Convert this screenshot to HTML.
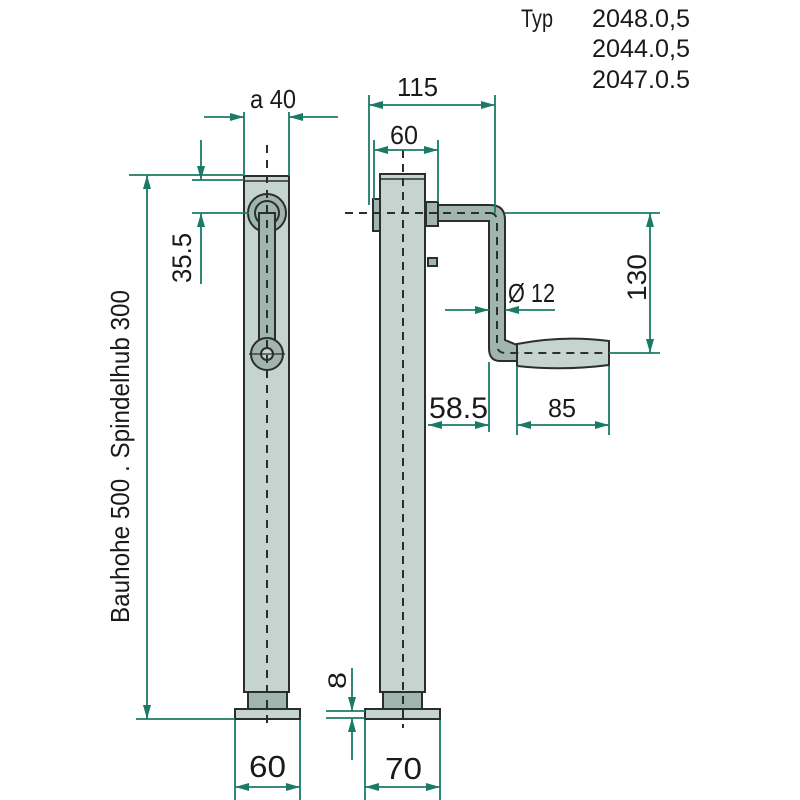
<!DOCTYPE html>
<html><head><meta charset="utf-8"><style>html,body{margin:0;padding:0;background:#fff}svg{display:block}</style></head>
<body>
<svg width="800" height="800" viewBox="0 0 800 800" xmlns="http://www.w3.org/2000/svg" font-family="Liberation Sans, sans-serif">
<defs>
<marker id="a" viewBox="0 0 14 8" refX="14" refY="4" markerWidth="14" markerHeight="8" markerUnits="userSpaceOnUse" orient="auto-start-reverse"><path d="M0,0 L14,4 L0,8 z" fill="#1b7a66"/></marker>
</defs>
<rect width="800" height="800" fill="#fff"/>

<!-- LEFT TUBE -->
<g stroke="#2a2f2d" stroke-width="2">
<rect x="248" y="692" width="39" height="18" fill="#9fb5ae"/>
<rect x="235" y="709" width="65" height="10" fill="#c6d4d0"/>
<rect x="244" y="176" width="45" height="516" fill="#c6d4d0"/>
<line x1="244" y1="181" x2="289" y2="181" stroke-width="1.5"/>
<circle cx="267" cy="213" r="19" fill="#9fb5ae"/>
<circle cx="267" cy="213" r="12" fill="#9fb5ae"/>
<rect x="259" y="213" width="16" height="140" fill="#9fb5ae"/>
<circle cx="267" cy="354" r="16" fill="#9fb5ae"/>
<circle cx="267" cy="354" r="6" fill="#c6d4d0"/>
</g>
<line x1="267" y1="145" x2="267" y2="728" stroke="#2a2f2d" stroke-width="2" stroke-dasharray="8,7"/>
<line x1="249" y1="354" x2="285" y2="354" stroke="#2a2f2d" stroke-width="1.2"/>

<!-- RIGHT TUBE -->
<g stroke="#2a2f2d" stroke-width="2">
<rect x="383" y="692" width="39" height="18" fill="#9fb5ae"/>
<rect x="365" y="709" width="75" height="10" fill="#c6d4d0"/>
<rect x="380" y="174" width="45" height="518" fill="#c6d4d0"/>
<line x1="380" y1="179" x2="425" y2="179" stroke-width="1.5"/>
<rect x="373" y="199" width="7" height="32" fill="#9fb5ae"/>
<rect x="426" y="202" width="12" height="24" fill="#9fb5ae"/>
<rect x="428" y="258" width="9" height="8" fill="#9fb5ae"/>
<path d="M438,205 L490,205 Q505,205 505,220 L505,340 L517,345 L517,361 L500,361 Q489,361 489,348 L489,221 L438,221 Z" fill="#9fb5ae"/>
<path d="M517,344 Q563,335 609,341 L609,365 Q563,371 517,366 Z" fill="#c6d4d0"/>
</g>
<g stroke="#2a2f2d" stroke-width="2" stroke-dasharray="8,6" fill="none">
<line x1="403" y1="150" x2="403" y2="728"/>
<line x1="345" y1="213" x2="490" y2="213"/>
<path d="M490,213 Q497,213 497,222 L497,345 Q497,353 506,353 L609,353"/>
</g>

<!-- DIMENSIONS -->
<g stroke="#1b7a66" stroke-width="1.8" fill="none">
<line x1="244" y1="112" x2="244" y2="176"/><line x1="289" y1="112" x2="289" y2="176"/>
<line x1="204" y1="117" x2="244" y2="117" marker-end="url(#a)"/>
<line x1="338" y1="117" x2="289" y2="117" marker-end="url(#a)"/>
<line x1="369" y1="95" x2="369" y2="205"/><line x1="495" y1="95" x2="495" y2="213"/>
<line x1="369" y1="105" x2="495" y2="105" marker-start="url(#a)" marker-end="url(#a)"/>
<line x1="374" y1="140" x2="374" y2="200"/><line x1="438" y1="140" x2="438" y2="202"/>
<line x1="374" y1="150" x2="438" y2="150" marker-start="url(#a)" marker-end="url(#a)"/>
<line x1="192" y1="180" x2="244" y2="180"/><line x1="192" y1="213" x2="249" y2="213"/>
<line x1="201" y1="140" x2="201" y2="180" marker-end="url(#a)"/>
<line x1="201" y1="284" x2="201" y2="213" marker-end="url(#a)"/>
<line x1="129" y1="175" x2="244" y2="175"/><line x1="136" y1="719" x2="235" y2="719"/>
<line x1="147" y1="175" x2="147" y2="719" marker-start="url(#a)" marker-end="url(#a)"/>
<line x1="445" y1="310" x2="489" y2="310" marker-end="url(#a)"/>
<line x1="555" y1="310" x2="505" y2="310" marker-end="url(#a)"/>
<line x1="505" y1="213" x2="660" y2="213"/><line x1="609" y1="353" x2="660" y2="353"/>
<line x1="650" y1="213" x2="650" y2="353" marker-start="url(#a)" marker-end="url(#a)"/>
<line x1="489" y1="362" x2="489" y2="432"/>
<line x1="428" y1="425" x2="489" y2="425" marker-start="url(#a)" marker-end="url(#a)"/>
<line x1="517" y1="366" x2="517" y2="435"/><line x1="609" y1="366" x2="609" y2="435"/>
<line x1="517" y1="425" x2="609" y2="425" marker-start="url(#a)" marker-end="url(#a)"/>
<line x1="235" y1="720" x2="235" y2="800"/><line x1="300" y1="720" x2="300" y2="800"/>
<line x1="235" y1="787" x2="300" y2="787" marker-start="url(#a)" marker-end="url(#a)"/>
<line x1="365" y1="720" x2="365" y2="800"/><line x1="440" y1="720" x2="440" y2="800"/>
<line x1="365" y1="787" x2="440" y2="787" marker-start="url(#a)" marker-end="url(#a)"/>
<line x1="326" y1="711" x2="365" y2="711"/><line x1="326" y1="718" x2="365" y2="718"/>
<line x1="352" y1="668" x2="352" y2="711" marker-end="url(#a)"/>
<line x1="352" y1="760" x2="352" y2="718" marker-end="url(#a)"/>
</g>

<!-- TEXT -->
<g fill="#1a1a1a" font-size="25">
<text x="521" y="27" textLength="32" lengthAdjust="spacingAndGlyphs">Typ</text>
<text x="592" y="27" textLength="98" lengthAdjust="spacingAndGlyphs">2048.0,5</text>
<text x="592" y="57" textLength="98" lengthAdjust="spacingAndGlyphs">2044.0,5</text>
<text x="592" y="88" textLength="98" lengthAdjust="spacingAndGlyphs">2047.0.5</text>
<text x="250" y="108" font-size="26" textLength="46" lengthAdjust="spacingAndGlyphs">a 40</text>
<text x="397" y="96" font-size="26" textLength="41" lengthAdjust="spacingAndGlyphs">115</text>
<text x="390" y="144" font-size="26" textLength="28" lengthAdjust="spacingAndGlyphs">60</text>
<text x="508" y="302" font-size="26" textLength="47" lengthAdjust="spacingAndGlyphs">Ø 12</text>
<text x="429" y="418" font-size="30" textLength="59" lengthAdjust="spacingAndGlyphs">58.5</text>
<text x="548" y="417" font-size="26" textLength="28" lengthAdjust="spacingAndGlyphs">85</text>
<text x="249" y="777" font-size="31" textLength="37" lengthAdjust="spacingAndGlyphs">60</text>
<text x="385" y="779" font-size="31" textLength="37" lengthAdjust="spacingAndGlyphs">70</text>
<text transform="translate(191,283) rotate(-90)" font-size="27" textLength="50" lengthAdjust="spacingAndGlyphs">35.5</text>
<text transform="translate(129,623) rotate(-90)" font-size="26" textLength="333" lengthAdjust="spacingAndGlyphs">Bauhohe 500 . Spindelhub 300</text>
<text transform="translate(646,301) rotate(-90)" font-size="27" textLength="47" lengthAdjust="spacingAndGlyphs">130</text>
<text transform="translate(346,689) rotate(-90)" textLength="17" lengthAdjust="spacingAndGlyphs">8</text>
</g>
</svg>
</body></html>
